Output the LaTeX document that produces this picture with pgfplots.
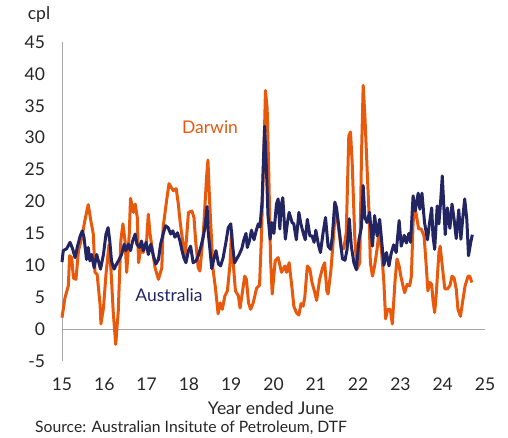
\documentclass[border=0pt]{standalone}
\usepackage{fontspec}
\setmainfont{Lato}
\usepackage{pgfplots}
\pgfplotsset{compat=1.18}
\definecolor{dorange}{HTML}{E8590C}
\definecolor{anavy}{HTML}{232462}
\definecolor{axgray}{HTML}{A6A6A6}
\begin{document}
\fontsize{17.5}{20}\selectfont
\begin{tikzpicture}
\useasboundingbox (-62pt,-77pt) rectangle (446pt,361pt);
\begin{axis}[
  scale only axis, width=423pt, height=319pt,
  at={(0,0)}, anchor=south west,
  xmin=15, xmax=25, ymin=-5, ymax=45,
  axis x line*=bottom,
  x axis line style={draw=none},
  axis y line*=left,
  y axis line style={axgray, line width=0.8pt, -},
  xtick={15,...,25}, ytick={-5,0,...,45},
  major tick length=0pt,
  tick style={draw=none},
  clip=false,
  /pgf/number format/assume math mode=true,
  tick label style={font=\fontsize{17.5}{20}\selectfont, text=black!85},
  yticklabel style={xshift=-11pt},
  xticklabel style={yshift=-11pt},
]
\draw[axgray, line width=0.8pt] (axis cs:15,0) -- (axis cs:25,0);
\addplot[dorange, line width=3pt, line join=round] coordinates {
(15.00,1.8) (15.07,4.9) (15.15,6.8) (15.18,11.5) (15.23,11.2) (15.27,8.0) (15.33,7.8) (15.39,12.3) (15.47,14.4) (15.54,17.0)
(15.62,19.5) (15.69,16.7) (15.74,14.9) (15.78,8.9) (15.83,8.6) (15.90,3.9) (15.92,0.8) (15.98,3.3) (16.04,8.6) (16.11,13.2)
(16.16,9.1) (16.21,2.8) (16.27,-2.4) (16.33,2.8) (16.39,13.8) (16.44,16.5) (16.49,13.8) (16.53,8.9) (16.59,14.9) (16.62,20.5)
(16.69,18.3) (16.73,19.6) (16.78,17.5) (16.81,10.4) (16.88,13.3) (16.92,12.0) (17.00,13.8) (17.04,18.0) (17.08,15.0) (17.20,9.6)
(17.28,7.8) (17.36,9.6) (17.39,15.9) (17.48,20.5) (17.53,22.8) (17.63,21.7) (17.70,22.0) (17.75,19.6) (17.79,17.0) (17.83,14.9)
(17.91,11.2) (17.99,18.3) (18.07,18.5) (18.12,17.5) (18.16,13.8) (18.22,9.6) (18.26,9.1) (18.34,14.9) (18.42,24.0) (18.45,26.5)
(18.49,20.0) (18.57,9.4) (18.63,6.3) (18.69,2.4) (18.74,4.1) (18.79,3.1) (18.85,5.2) (18.91,6.0) (18.97,10.0) (19.01,15.5)
(19.04,11.0) (19.10,6.0) (19.17,5.2) (19.21,3.3) (19.32,8.3) (19.36,7.8) (19.41,4.1) (19.46,3.1) (19.52,4.1) (19.60,6.4)
(19.67,6.9) (19.71,13.6) (19.78,29.3) (19.81,37.4) (19.85,34.6) (19.89,24.0) (19.93,11.0) (19.97,5.5) (20.04,10.7) (20.11,11.2)
(20.19,8.9) (20.27,9.9) (20.31,8.9) (20.37,10.4) (20.44,6.3) (20.48,3.6) (20.54,2.6) (20.60,2.2) (20.65,4.0) (20.70,3.6)
(20.74,5.0) (20.80,9.9) (20.86,9.4) (20.91,7.3) (20.97,5.9) (21.02,4.5) (21.09,7.8) (21.16,9.6) (21.21,10.4) (21.26,6.0)
(21.29,5.5) (21.36,9.4) (21.42,14.6) (21.47,19.3) (21.52,16.7) (21.60,12.6) (21.66,12.6) (21.72,15.1) (21.78,30.3) (21.82,30.9)
(21.86,26.1) (21.92,14.6) (21.97,9.4) (22.04,10.4) (22.08,27.2) (22.12,38.2) (22.16,33.5) (22.21,25.6) (22.26,17.8) (22.29,10.4)
(22.34,8.3) (22.39,9.9) (22.45,12.6) (22.49,15.1) (22.55,12.6) (22.61,7.3) (22.65,1.6) (22.70,3.1) (22.76,3.1) (22.81,0.8)
(22.87,7.3) (22.92,11.0) (22.97,9.9) (23.01,8.3) (23.06,6.8) (23.10,5.7) (23.16,7.0) (23.22,6.8) (23.26,8.3) (23.30,16.7)
(23.34,19.3) (23.38,17.8) (23.43,15.7) (23.49,15.7) (23.56,14.6) (23.61,10.0) (23.65,6.0) (23.70,7.3) (23.74,7.0) (23.77,4.5)
(23.81,2.6) (23.85,5.7) (23.91,12.0) (23.94,13.0) (23.99,9.9) (24.05,6.3) (24.11,6.3) (24.17,6.8) (24.22,8.3) (24.27,8.0)
(24.32,6.3) (24.36,3.1) (24.42,2.0) (24.48,4.7) (24.53,6.8) (24.60,8.3) (24.64,8.3) (24.69,7.3)
};
\addplot[anavy, line width=3pt, line join=round] coordinates {
(15.00,10.5) (15.03,12.3) (15.11,12.6) (15.19,13.6) (15.25,12.6) (15.31,11.2) (15.36,12.8) (15.43,14.6) (15.48,15.4) (15.52,14.4)
(15.58,10.9) (15.62,12.8) (15.66,10.7) (15.70,11.7) (15.76,9.6) (15.82,11.7) (15.86,10.7) (15.91,9.4) (15.98,11.7) (16.04,14.9)
(16.09,15.9) (16.13,13.8) (16.17,10.7) (16.23,9.4) (16.29,10.2) (16.35,10.9) (16.41,11.7) (16.47,13.3) (16.51,12.3) (16.57,13.3)
(16.62,12.3) (16.67,13.8) (16.73,14.9) (16.77,13.3) (16.83,12.8) (16.88,13.8) (16.92,12.3) (16.99,13.6) (17.04,11.7) (17.10,13.3)
(17.16,11.5) (17.22,10.2) (17.28,10.9) (17.33,13.3) (17.39,14.9) (17.45,16.2) (17.51,15.9) (17.57,14.9) (17.62,15.4) (17.67,14.4)
(17.73,15.1) (17.79,13.8) (17.83,12.5) (17.88,11.2) (17.93,10.4) (17.99,12.3) (18.04,13.0) (18.10,10.4) (18.17,10.7) (18.22,11.5)
(18.28,12.8) (18.34,14.5) (18.38,16.0) (18.43,19.2) (18.46,14.9) (18.50,12.3) (18.54,9.5) (18.58,10.7) (18.64,12.3) (18.70,10.2)
(18.75,9.9) (18.81,11.2) (18.88,13.8) (18.93,15.9) (18.99,16.5) (19.03,13.3) (19.08,10.4) (19.13,11.0) (19.19,11.7) (19.25,12.6)
(19.30,14.0) (19.35,15.0) (19.38,12.8) (19.43,13.8) (19.48,15.5) (19.54,14.0) (19.59,15.4) (19.64,16.5) (19.68,16.0) (19.73,20.0)
(19.76,26.0) (19.79,31.8) (19.83,25.6) (19.87,17.8) (19.92,14.1) (19.96,16.7) (20.01,15.0) (20.07,19.6) (20.11,20.4) (20.15,15.7)
(20.18,19.3) (20.22,20.6) (20.28,14.1) (20.33,16.7) (20.37,18.3) (20.44,16.7) (20.48,16.5) (20.54,14.0) (20.60,18.3) (20.64,16.7)
(20.70,15.1) (20.75,14.0) (20.80,17.2) (20.86,14.6) (20.91,14.6) (20.96,13.6) (21.00,15.5) (21.06,13.3) (21.11,12.0) (21.17,15.0)
(21.23,17.5) (21.29,13.0) (21.35,12.5) (21.39,14.5) (21.45,19.9) (21.49,19.0) (21.57,14.6) (21.63,11.0) (21.69,10.8) (21.74,12.5)
(21.79,17.3) (21.84,13.0) (21.90,10.4) (21.96,9.3) (22.02,14.0) (22.08,16.0) (22.12,22.5) (22.16,17.5) (22.21,16.7) (22.27,18.3)
(22.34,13.0) (22.39,17.8) (22.45,14.6) (22.51,17.2) (22.56,13.6) (22.61,10.0) (22.67,12.0) (22.73,9.9) (22.78,11.8) (22.84,13.2)
(22.90,12.0) (22.97,17.0) (23.02,13.0) (23.09,14.7) (23.14,13.5) (23.20,15.0) (23.24,13.6) (23.30,20.9) (23.35,18.5) (23.42,21.3)
(23.46,18.8) (23.51,21.3) (23.57,16.7) (23.64,14.0) (23.69,16.7) (23.74,19.0) (23.77,14.6) (23.81,12.5) (23.87,19.3) (23.91,16.5)
(23.95,19.9) (23.99,24.0) (24.03,18.8) (24.06,14.8) (24.11,19.0) (24.17,15.8) (24.22,19.6) (24.27,17.2) (24.32,14.2) (24.38,18.7)
(24.43,14.1) (24.48,17.8) (24.52,20.4) (24.57,17.2) (24.61,11.5) (24.66,13.5) (24.70,14.8)
};
\end{axis}
\node[text=black!85] at (-23pt,346pt) {cpl};
\node[text=dorange] at (148pt,234pt) {Darwin};
\node[text=anavy] at (107pt,66pt) {Australia};
\node[text=black!85] at (209pt,-47pt) {Year ended June};
\node[text=black!85, anchor=west, inner sep=0pt, font=\fontsize{15.7}{19}\selectfont] at (-27pt,-67pt) {Source: Australian Insitute of Petroleum, DTF};
\end{tikzpicture}
\end{document}
